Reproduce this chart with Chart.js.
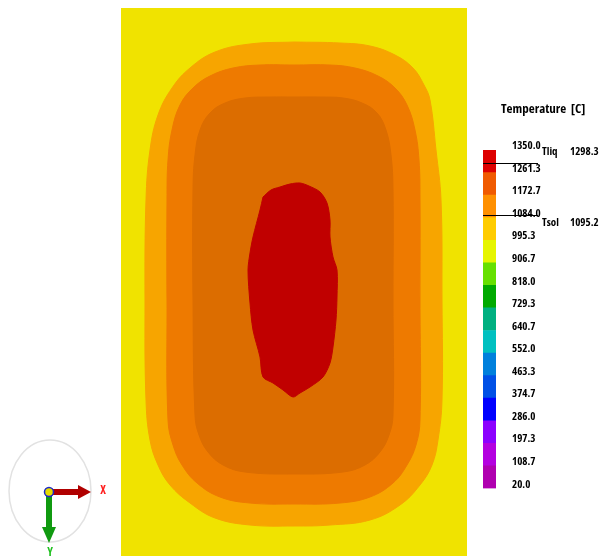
<!DOCTYPE html>
<html><head><meta charset="utf-8">
<script src="https://cdn.jsdelivr.net/npm/chart.js@4.4.1/dist/chart.umd.min.js"></script>
<style>
html,body{margin:0;padding:0;background:#fff;overflow:hidden;width:602px;height:556px}
#main{position:absolute;left:0;top:0;width:602px;height:556px}
#bar{position:absolute;left:470px;top:90px;width:132px;height:421px}
</style></head><body>
<div id="main"><canvas id="c1"></canvas></div>
<div id="bar"><canvas id="c2"></canvas></div>
<script>
// ---- Temperature field: contour boundaries (x, y in section units) ----
const domainOutline = [[0,0],[346,0],[346,548],[0,548],[0,0]];
const contourA = [[173,34],[219,35],[249,38],[274,47],[292,60],[303,77],[309,92],[315,142],[320,192],[321,292],[321,392],[317,432],[311,457],[299,477],[279,497],[249,512],[209,517],[173,518],[129,517],[94,510],[69,495],[49,477],[37,457],[29,432],[25,392],[24,292],[25,192],[29,142],[37,107],[51,80],[69,60],[94,44],[129,36],[173,34]];
const contourB = [[173,57],[209,57],[234,60],[257,68],[274,80],[286,97],[294,122],[298,152],[299,192],[299,292],[299,412],[295,437],[286,457],[272,475],[249,489],[219,495],[173,496],[129,495],[99,489],[76,475],[61,457],[52,437],[47,412],[46,292],[46,192],[47,152],[51,122],[59,97],[72,80],[89,68],[112,60],[139,57],[173,57]];
const contourC = [[173,89],[199,89],[222,90],[241,95],[256,105],[265,122],[270,147],[272,182],[272,292],[272,407],[268,427],[259,444],[244,457],[222,464],[173,466],[124,464],[102,457],[87,444],[78,427],[74,407],[72,292],[72,182],[74,147],[79,122],[89,105],[104,95],[124,90],[149,89],[173,89]];
const liquidCore = [[142,189],[150,182],[159,179],[169,176],[179,175],[188,178],[199,184],[206,195],[209,212],[209,229],[212,249],[216,262],[216,289],[215,312],[212,339],[209,355],[202,369],[189,379],[179,385],[172,389],[162,382],[152,375],[142,369],[139,349],[132,322],[129,295],[127,262],[129,245],[132,229],[139,202],[142,189]];

// ---- Colour scale ----
const levels = [20.0,108.7,197.3,286.0,374.7,463.3,552.0,640.7,729.3,818.0,906.7,995.3,1084.0,1172.7,1261.3,1350.0];
const levelLabels = ['20.0','108.7','197.3','286.0','374.7','463.3','552.0','640.7','729.3','818.0','906.7','995.3','1084.0','1172.7','1261.3','1350.0'];
const bandColors = ['#b000b0','#b400e0','#8c00ff','#0000ff','#0050e6','#0080dc','#00c0c0','#00b080','#00aa00','#66e000','#e6f500','#ffcc00','#ff9000','#f05a00','#dd0000'];
const markerNames = ['Tliq','Tsol'];
const markerValues = [1298.3, 1095.2];
const markerLabels = ['1298.3','1095.2'];

const FAMILY = "'Open Sans'";
const WEIGHT = 'condensed bold';

function pts(a){ return a.map(p => ({x:p[0], y:p[1]})); }
function region(data, color, order, tension){
  return {data: pts(data), showLine:true, fill:'shape', backgroundColor:color, borderColor:color,
          borderWidth:1, pointRadius:0, tension:tension, order:order};
}

const triad = {
  id:'triad',
  afterDraw(chart){
    const ctx = chart.ctx;
    ctx.save();
    ctx.strokeStyle = '#e2e2e2'; ctx.lineWidth = 1.5;
    ctx.beginPath(); ctx.ellipse(50,491,41,51,0,0,Math.PI*2); ctx.stroke();
    ctx.fillStyle = '#b00000';
    ctx.fillRect(52,489,28,6);
    ctx.beginPath(); ctx.moveTo(78,485); ctx.lineTo(91,492); ctx.lineTo(78,499); ctx.closePath(); ctx.fill();
    ctx.fillStyle = '#109a10';
    ctx.fillRect(46,495,6,34);
    ctx.beginPath(); ctx.moveTo(42,527); ctx.lineTo(49,543); ctx.lineTo(56,527); ctx.closePath(); ctx.fill();
    ctx.fillStyle = '#e6dc00'; ctx.strokeStyle = '#1c28c8'; ctx.lineWidth = 1.5;
    ctx.beginPath(); ctx.arc(49,492,4.5,0,Math.PI*2); ctx.fill(); ctx.stroke();
    ctx.font = WEIGHT + ' 12px ' + FAMILY; ctx.textBaseline = 'middle'; ctx.textAlign = 'center';
    ctx.fillStyle = '#ff2020'; ctx.fillText('X',103,491);
    ctx.fillStyle = '#20c020'; ctx.fillText('Y',50,553);
    ctx.restore();
  }
};

new Chart(document.getElementById('c1'), {
  type:'scatter',
  data:{datasets:[
    region(domainOutline,'#f0e300',5,0),
    region(contourA,'#f7a500',4,0.4),
    region(contourB,'#ee7a00',3,0.4),
    region(contourC,'#dc6d00',2,0.4),
    region(liquidCore,'#c00000',1,0.3)
  ]},
  options:{
    responsive:true, maintainAspectRatio:false, animation:false, events:[],
    layout:{padding:{left:121,right:135,top:8,bottom:0}},
    scales:{
      x:{type:'linear',min:0,max:346,display:false},
      y:{type:'linear',min:0,max:548,reverse:true,display:false}
    },
    plugins:{legend:{display:false},tooltip:{enabled:false}}
  },
  plugins:[triad]
});

const markers = {
  id:'markers',
  afterDraw(chart){
    const ctx = chart.ctx, a = chart.chartArea, ys = chart.scales.y;
    ctx.save();
    ctx.fillStyle = '#000';
    ctx.font = WEIGHT + ' 13px ' + FAMILY; ctx.textBaseline = 'middle'; ctx.textAlign = 'left';
    ctx.fillText('Temperature  [C]', 31, 19);
    ctx.font = WEIGHT + ' 11px ' + FAMILY;
    markerValues.forEach((v,i) => {
      const y = Math.round(ys.getPixelForValue(v)) + 0.5;
      ctx.strokeStyle = '#000'; ctx.lineWidth = 1;
      ctx.beginPath(); ctx.moveTo(a.left, y); ctx.lineTo(a.left + 55, y); ctx.stroke();
      const ty = i === 0 ? y - 12 : y + 7;
      ctx.fillText(markerNames[i], 72, ty);
      ctx.fillText(markerLabels[i], 100, ty);
    });
    ctx.restore();
  }
};

new Chart(document.getElementById('c2'), {
  type:'bar',
  data:{labels:['T'], datasets: bandColors.map((c,i) => ({
    data:[[levels[i], levels[i+1]]], backgroundColor:c, borderWidth:0,
    barPercentage:1, categoryPercentage:1, grouped:false
  }))},
  options:{
    responsive:true, maintainAspectRatio:false, animation:false, events:[],
    layout:{padding:{left:13,right:26,top:60,bottom:1}},
    scales:{
      x:{display:false},
      y:{type:'linear',position:'right',min:20,max:1350,
         grid:{display:false,drawTicks:false}, border:{display:false},
         afterBuildTicks(s){ s.ticks = levels.map(v => ({value:v})); },
         afterFit(s){ s.width = 80; },
         ticks:{autoSkip:false, padding:16, labelOffset:-4, color:'#000',
                font:{family:FAMILY, size:11, weight:WEIGHT},
                callback:(v,i) => levelLabels[i]}
      }
    },
    plugins:{legend:{display:false},tooltip:{enabled:false}}
  },
  plugins:[markers]
});
</script>
</body></html>
